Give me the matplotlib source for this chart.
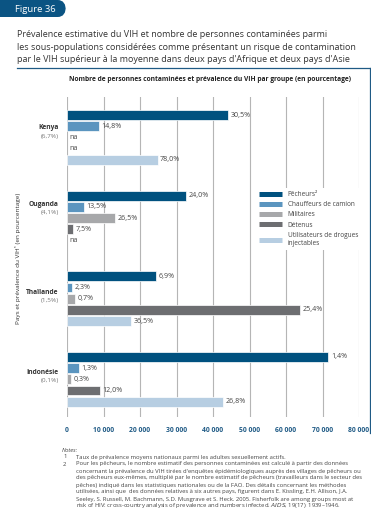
import matplotlib
matplotlib.use("Agg")
import matplotlib.pyplot as plt
from matplotlib.lines import Line2D
from matplotlib.patches import FancyBboxPatch
import numpy as np

plt.rcParams['font.family'] = ['Open Sans', 'DejaVu Sans']

W, H = 371, 515

countries = ["Kenya", "Ouganda", "Thaïlande", "Indonésie"]
national_prev = ["(6,7%)", "(4,1%)", "(1,5%)", "(0,1%)"]
groups = ["Pêcheurs²", "Chauffeurs de camion", "Militaires", "Détenus",
          "Utilisateurs de drogues\ninjectables"]
colors = ["#00517f", "#5b95bf", "#a7a8aa", "#6d6e71", "#b7cee2"]

# infected counts per country, one list per group (None = na)
pecheurs = [44100, 32600, 24400, 71600]
chauffeurs = [8800, 4700, 1300, 3200]
militaires = [None, 13200, 2300, 1000]
detenus = [None, 1700, 63800, 9000]
udi = [24800, None, 17500, 42700]

prev_pecheurs = ["30,5%", "24,0%", "6,9%", "1,4%"]
prev_chauffeurs = ["14,8%", "13,5%", "2,3%", "1,3%"]
prev_militaires = ["na", "26,5%", "0,7%", "0,3%"]
prev_detenus = ["na", "7,5%", "25,4%", "12,0%"]
prev_udi = ["78,0%", "na", "36,5%", "26,8%"]

xticks = np.arange(0, 80001, 10000)
xtick_labels = ["0", "10 000", "20 000", "30 000", "40 000",
                "50 000", "60 000", "70 000", "80 000"]

values = [pecheurs, chauffeurs, militaires, detenus, udi]
labels = [prev_pecheurs, prev_chauffeurs, prev_militaires, prev_detenus, prev_udi]


def fx(px):
    return px / W


def fy(py):
    return 1 - py / H


fig = plt.figure(figsize=(W / 100, H / 100), dpi=100)

# "Figure 36" tab
tab = FancyBboxPatch((fx(-10), fy(17)), fx(76), fy(0) - fy(17),
                     boxstyle="round,pad=0,rounding_size=0.022",
                     transform=fig.transFigure, facecolor="#0b5483",
                     edgecolor="none")
fig.patches.append(tab)
fig.text(fx(15), fy(9), "Figure 36", color="white", fontsize=6.8,
         va="center", ha="left")

title = ("Prévalence estimative du VIH et nombre de personnes contaminées parmi\n"
         "les sous-populations considérées comme présentant un risque de contamination\n"
         "par le VIH supérieur à la moyenne dans deux pays d'Afrique et deux pays d'Asie")
fig.text(fx(17), fy(47), title, color="#333333", fontsize=6.5, va="center",
         ha="left", linespacing=1.55)

# frame lines
fig.add_artist(Line2D([fx(17), fx(369.5)], [fy(68), fy(68)],
                      transform=fig.transFigure, color="#1f5a85", lw=0.9))
fig.add_artist(Line2D([fx(369.5), fx(369.5)], [fy(68), fy(433)],
                      transform=fig.transFigure, color="#1f5a85", lw=0.9))

fig.text(fx(210), fy(79), "Nombre de personnes contaminées et prévalence du VIH par groupe (en pourcentage)",
         fontsize=4.75, fontweight="bold", color="#222222", ha="center", va="center")

ax = fig.add_axes([fx(67), fy(417), fx(359) - fx(67), fy(97) - fy(417)])
ax.set_xlim(0, 80000)
row = 1.0
gap = 7.2
ax.set_ylim((417 - 115) / 11.2, -(115 - 97) / 11.2)

for g in range(len(groups)):
    for c in range(len(countries)):
        y = c * gap + g * row
        v = values[g][c]
        if v is not None:
            ax.barh(y, v, height=0.88, color=colors[g], edgecolor="white",
                    linewidth=0.5, zorder=3)
            ax.text(v + 700, y, labels[g][c], fontsize=5.1, color="#444444",
                    va="center", ha="left", zorder=4)
        else:
            ax.text(700, y, "na", fontsize=5.1, color="#444444",
                    va="center", ha="left", zorder=4)

ax.set_xticks(xticks)
ax.set_xticklabels(xtick_labels, fontsize=4.9, color="#1f5a85", fontweight="bold")
ax.tick_params(axis="x", length=0, pad=7)
ax.set_yticks([])
ax.grid(axis="x", color="#b5b5b5", lw=0.8, zorder=0)
for s in ax.spines.values():
    s.set_visible(False)

label_rows = [1.5, 1.1, 1.8, 1.7]
for c, name in enumerate(countries):
    y = c * gap + label_rows[c]
    ax.text(-2300, y - 0.35, name, fontsize=4.8, fontweight="bold",
            color="#333333", ha="right", va="center")
    ax.text(-2300, y + 0.4, national_prev[c], fontsize=4.6, color="#777777",
            ha="right", va="center")

fig.text(fx(18), fy(258), "Pays et prévalence du VIH¹ (en pourcentage)",
         rotation=90, fontsize=4.6, color="#333333", ha="center", va="center")

handles = [Line2D([], [], color=colors[i], lw=3.6, solid_capstyle="butt")
           for i in range(len(groups))]
leg = ax.legend(handles, groups, loc="upper left",
                bbox_to_anchor=(fx(253), fy(185)), bbox_transform=fig.transFigure,
                fontsize=4.7, frameon=True, facecolor="white", edgecolor="none",
                framealpha=1, fancybox=False, handlelength=3.6, handletextpad=0.8,
                labelspacing=0.5, borderpad=0.4, labelcolor="#444444")
leg.set_zorder(5)

notes = [
    ("1", "Taux de prévalence moyens nationaux parmi les adultes sexuellement actifs."),
    ("2", "Pour les pêcheurs, le nombre estimatif des personnes contaminées est calculé à partir des données"),
    ("", "concernant la prévalence du VIH tirées d'enquêtes épidémiologiques auprès des villages de pêcheurs ou"),
    ("", "des pêcheurs eux-mêmes, multiplié par le nombre estimatif de pêcheurs (travailleurs dans le secteur des"),
    ("", "pêches) indiqué dans les statistiques nationales ou de la FAO. Des détails concernant les méthodes"),
    ("", "utilisées, ainsi que  des données relatives à six autres pays, figurent dans E. Kissling, E.H. Allison, J.A."),
    ("", "Seeley, S. Russell, M. Bachmann, S.D. Musgrave et S. Heck. 2005. Fisherfolk are among groups most at"),
    ("", "risk of HIV: cross-country analysis of prevalence and numbers infected. $\\it{AIDS}$, 19(17): 1939–1946."),
]
fig.text(fx(62), fy(450), "Notes:", fontsize=4.2, style="italic", color="#444444",
         va="center", ha="left")
for i, (num, txt) in enumerate(notes):
    yy = fy(457 + i * 7)
    if num:
        fig.text(fx(63), yy, num, fontsize=4.2, color="#444444", va="center", ha="left")
    fig.text(fx(76), yy, txt, fontsize=4.2, color="#444444", va="center", ha="left")

fig.savefig("out.png", dpi=100)
